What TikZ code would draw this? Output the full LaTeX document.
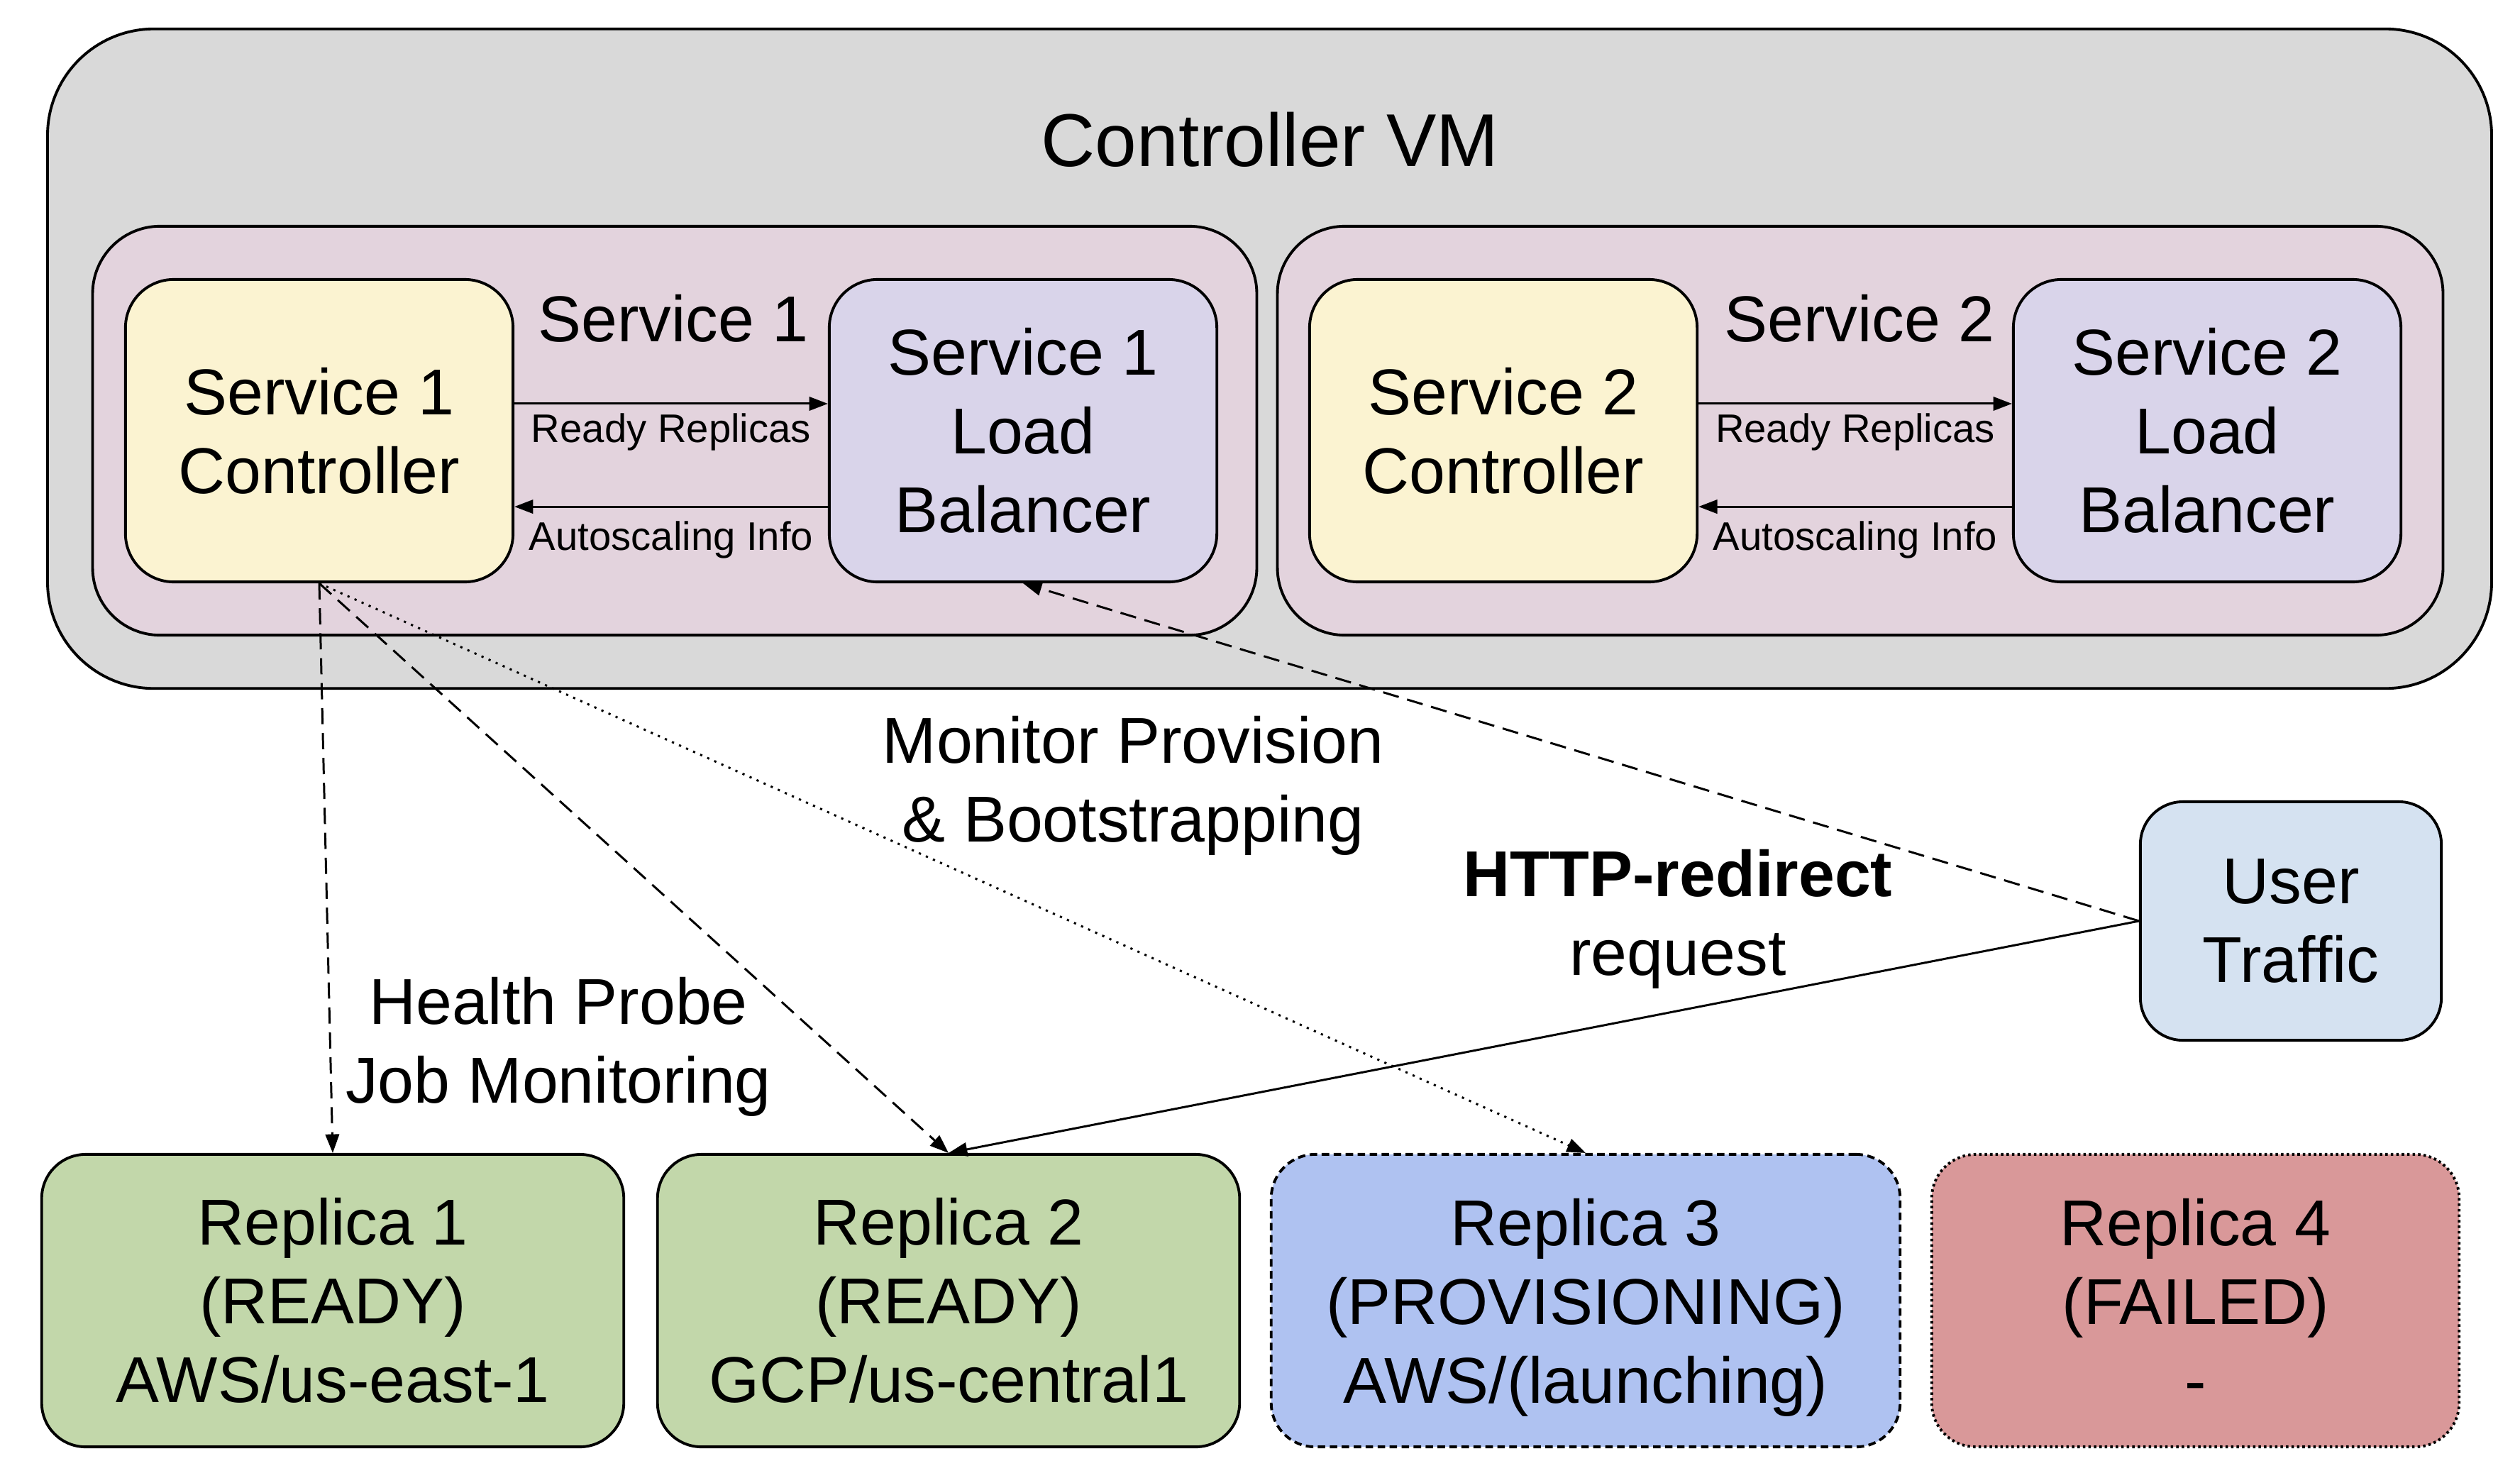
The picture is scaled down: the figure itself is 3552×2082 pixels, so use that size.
\documentclass[tikz,border=0pt]{standalone}
\usepackage{fontspec}
\setmainfont{Liberation Sans}
\usetikzlibrary{arrows.meta,calc}
\definecolor{vmgray}{HTML}{D9D9D9}
\definecolor{svcpink}{HTML}{E3D3DD}
\definecolor{ctrlyellow}{HTML}{FBF3D1}
\definecolor{lblav}{HTML}{D9D4EA}
\definecolor{userblue}{HTML}{D5E2F1}
\definecolor{repgreen}{HTML}{C2D7AA}
\definecolor{repblue}{HTML}{AFC2F1}
\definecolor{repred}{HTML}{D99899}
\tikzset{
  bigfont/.style={font=\fontsize{26}{31.6}\selectfont},
  boxstyle/.style={draw, line width=1.1pt, align=center, inner sep=0pt, bigfont},
  txt/.style={align=center, inner sep=0pt, bigfont},
  smalltxt/.style={inner sep=0pt, font=\fontsize{16}{19}\selectfont},
  conn/.style={line width=0.85pt, -{Triangle[length=7.5pt,width=5.5pt]}},
  dashconn/.style={conn, dash pattern=on 6.5pt off 3.5pt},
  dotconn/.style={conn, dash pattern=on 0.9pt off 2.2pt},
}
\begin{document}
\begin{tikzpicture}[x=0.01cm,y=-0.01cm]
\path[fill=white,use as bounding box] (0,0) rectangle (3552,2082);

% Controller VM
\node[boxstyle, fill=vmgray, rounded corners=1.5cm, minimum width=34.43cm, minimum height=9.29cm] (vm) at (1789.5,505.5) {};
\node[txt, font=\fontsize{30}{36}\selectfont] (vmtitle) at (1790,197) {Controller VM};

% Service boxes
\node[boxstyle, fill=svcpink, rounded corners=0.95cm, minimum width=16.40cm, minimum height=5.76cm] (svc1) at (951,607) {};
\node[boxstyle, fill=svcpink, rounded corners=0.95cm, minimum width=16.42cm, minimum height=5.76cm] (svc2) at (2622,607) {};
\node[txt] (svc1lbl) at (949,449) {Service 1};
\node[txt] (svc2lbl) at (2621,449) {Service 2};

% Controllers and load balancers
\node[boxstyle, fill=ctrlyellow, rounded corners=0.68cm, minimum width=5.46cm, minimum height=4.26cm] (c1) at (450,607) {Service 1\\Controller};
\node[boxstyle, fill=lblav, rounded corners=0.68cm, minimum width=5.46cm, minimum height=4.26cm] (lb1) at (1442,607) {Service 1\\Load\\Balancer};
\node[boxstyle, fill=ctrlyellow, rounded corners=0.68cm, minimum width=5.46cm, minimum height=4.26cm] (c2) at (2119,607) {Service 2\\Controller};
\node[boxstyle, fill=lblav, rounded corners=0.68cm, minimum width=5.46cm, minimum height=4.26cm] (lb2) at (3111,607) {Service 2\\Load\\Balancer};

\draw[conn] ([yshift=0.38cm]c1.east) -- node[smalltxt, yshift=-0.40cm] {Ready Replicas} ([yshift=0.38cm]lb1.west);
\draw[conn] ([yshift=-1.07cm]lb1.west) -- node[smalltxt, yshift=-0.47cm] {Autoscaling Info} ([yshift=-1.07cm]c1.east);
\draw[conn] ([yshift=0.38cm]c2.east) -- node[smalltxt, yshift=-0.40cm] {Ready Replicas} ([yshift=0.38cm]lb2.west);
\draw[conn] ([yshift=-1.07cm]lb2.west) -- node[smalltxt, yshift=-0.47cm] {Autoscaling Info} ([yshift=-1.07cm]c2.east);

% User traffic
\node[boxstyle, fill=userblue, rounded corners=0.6cm, minimum width=4.24cm, minimum height=3.36cm] (user) at (3229,1298) {User\\Traffic};

% Replicas
\node[boxstyle, fill=repgreen, rounded corners=0.62cm, minimum width=8.20cm, minimum height=4.12cm] (r1) at (469,1833) {Replica 1\\(READY)\\AWS/us-east-1};
\node[boxstyle, fill=repgreen, rounded corners=0.62cm, minimum width=8.20cm, minimum height=4.12cm] (r2) at (1337,1833) {Replica 2\\(READY)\\GCP/us-central1};
\node[boxstyle, fill=repblue, rounded corners=0.62cm, minimum width=8.86cm, minimum height=4.12cm, dash pattern=on 3pt off 1.8pt] (r3) at (2235,1833) {Replica 3\\(PROVISIONING)\\\smash{AWS/(launching)}};
\node[boxstyle, fill=repred, rounded corners=0.62cm, minimum width=7.43cm, minimum height=4.12cm, dash pattern=on 1pt off 1.2pt] (r4) at (3094.5,1833) {Replica 4\\(FAILED)\\-};

% Labels
\node[txt] (hplbl) at (787,1475) {Health Probe\\Job Monitoring};
\node[txt] (mplbl) at (1597,1107) {Monitor Provision\\\& Bootstrapping};
\node[txt] (httplbl) at (2365,1295) {\textbf{HTTP-redirect}\\request};

% Connectors
\draw[dashconn] (c1.south) -- (r1.north);
\draw[dashconn] (c1.south) -- (r2.north);
\draw[dotconn] (c1.south) -- (r3.north);
\draw[dashconn] (user.west) -- (lb1.south);
\draw[conn] (user.west) -- (r2.north);
\end{tikzpicture}
\end{document}
